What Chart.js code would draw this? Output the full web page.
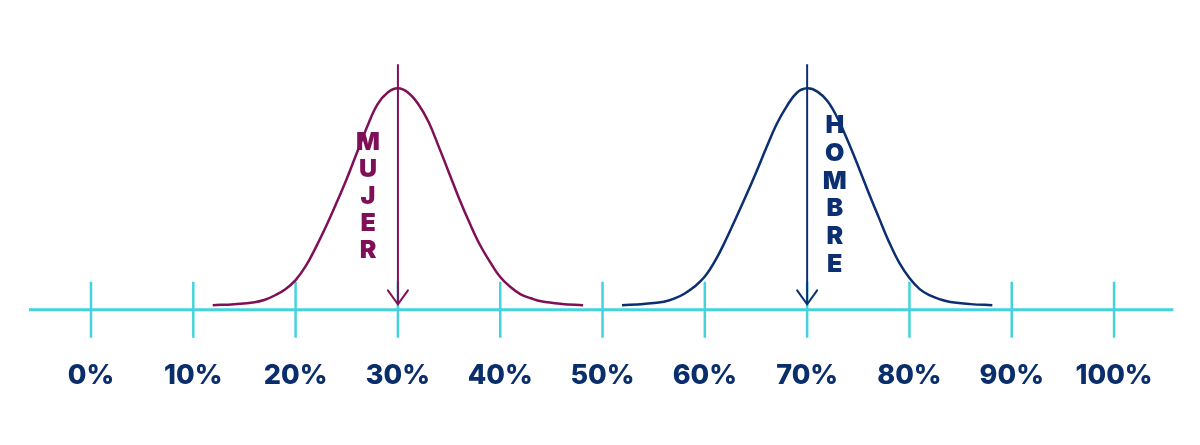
<!DOCTYPE html>
<html>
<head>
<meta charset="utf-8">
<script src="https://cdn.jsdelivr.net/npm/chart.js@4.4.1/dist/chart.umd.min.js"></script>
<style>
  html, body { margin: 0; padding: 0; background: #ffffff; }
  #wrap { width: 1200px; height: 445px; }
</style>
</head>
<body>
<div id="wrap"><canvas id="chart" width="1200" height="445"></canvas></div>
<script>
// Axis ticks (percent)
const tickValues = [0, 10, 20, 30, 40, 50, 60, 70, 80, 90, 100];

// Mujer curve (x in %, y relative to peak)
const mujerX = [11.9, 14, 16, 17, 18, 19, 20, 21, 22, 23, 24, 25, 26, 27, 28, 29, 30,
                31, 32, 33, 34, 35, 36, 37, 38, 39, 40, 41, 42, 43, 44, 46, 48.1];
const mujerY = [0.0, 0.005, 0.014, 0.025, 0.046, 0.074, 0.116, 0.181, 0.269, 0.366, 0.472, 0.583, 0.704, 0.824, 0.926, 0.981, 1.0,
                0.98, 0.927, 0.845, 0.73, 0.61, 0.49, 0.38, 0.28, 0.2, 0.13, 0.084, 0.05, 0.032, 0.018, 0.006, 0.0];

// Hombre curve
const hombreX = [51.9, 54, 56, 57, 58, 59, 60, 61, 62, 63, 64, 65, 66, 67, 68, 69, 70,
                 71, 72, 73, 74, 75, 76, 77, 78, 79, 80, 81, 82, 83, 84, 86, 88.1];
const hombreY = [0.0, 0.006, 0.016, 0.03, 0.053, 0.086, 0.132, 0.204, 0.296, 0.398, 0.502, 0.611, 0.725, 0.833, 0.917, 0.98, 1.0,
                 0.985, 0.94, 0.86, 0.755, 0.64, 0.52, 0.405, 0.292, 0.196, 0.125, 0.074, 0.045, 0.027, 0.015, 0.005, 0.0];

// Arrows: position (%), start and end heights
const arrowX = [30, 70];
const arrowTop = 1.111;
const arrowEnd = 0.004;

// Axis line ends and level
const axisFrom = -6.06;
const axisTo = 105.8;
const axisLevel = -0.021;

const cyan = '#44d3dc';
const maroon = '#7f1058';
const navy = '#0c2f72';
const labelNavy = '#0a2e6c';
const heavyFont = 'Inter, Lato, "Open Sans", sans-serif';

function toPoints(xs, ys) {
    return xs.map((x, i) => ({ x: x, y: ys[i] }));
}

// Draws arrowheads at the end of arrow datasets and the stacked vertical words
const decorPlugin = {
    id: 'decor',
    afterDatasetsDraw(chart, args, opts) {
        const ctx = chart.ctx;
        const xs = chart.scales.x;
        const ys = chart.scales.y;

        chart.data.datasets.forEach((ds) => {
            if (!ds.arrow) return;
            const end = ds.data[ds.data.length - 1];
            const px = xs.getPixelForValue(end.x);
            const py = ys.getPixelForValue(end.y);
            ctx.save();
            ctx.strokeStyle = ds.borderColor;
            ctx.lineWidth = 2;
            ctx.lineCap = 'round';
            ctx.beginPath();
            ctx.moveTo(px - 10, py - 14);
            ctx.lineTo(px, py);
            ctx.lineTo(px + 10, py - 14);
            ctx.stroke();
            ctx.restore();
        });

        opts.words.forEach((w) => {
            const px = xs.getPixelForValue(w.x);
            let py = ys.getPixelForValue(w.y);
            ctx.save();
            ctx.fillStyle = w.color;
            ctx.font = '900 25px ' + heavyFont;
            ctx.textAlign = 'center';
            ctx.textBaseline = 'middle';
            for (const ch of w.text) {
                ctx.fillText(ch, px, py);
                py += w.step;
            }
            ctx.restore();
        });
    }
};

const datasets = [
    {
        label: 'Mujer',
        data: toPoints(mujerX, mujerY),
        borderColor: maroon,
        borderWidth: 2.5,
        pointRadius: 0,
        tension: 0.4,
        order: 2
    },
    {
        label: 'Hombre',
        data: toPoints(hombreX, hombreY),
        borderColor: navy,
        borderWidth: 2.5,
        pointRadius: 0,
        tension: 0.4,
        order: 2
    },
    {
        label: 'Flecha mujer',
        arrow: true,
        data: [{ x: arrowX[0], y: arrowTop }, { x: arrowX[0], y: arrowEnd }],
        borderColor: maroon,
        borderWidth: 2,
        pointRadius: 0,
        order: 1
    },
    {
        label: 'Flecha hombre',
        arrow: true,
        data: [{ x: arrowX[1], y: arrowTop }, { x: arrowX[1], y: arrowEnd }],
        borderColor: navy,
        borderWidth: 2,
        pointRadius: 0,
        order: 1
    },
    {
        label: 'Eje',
        data: [{ x: axisFrom, y: axisLevel }, { x: axisTo, y: axisLevel }],
        borderColor: cyan,
        borderWidth: 3,
        pointRadius: 0,
        order: 3
    },
    {
        label: 'Marcas',
        data: tickValues.map(v => ({ x: v, y: axisLevel })),
        showLine: false,
        pointStyle: 'line',
        rotation: 90,
        pointRadius: 28,
        pointBorderWidth: 2.5,
        pointBorderColor: cyan,
        borderColor: cyan,
        order: 3
    }
];

new Chart(document.getElementById('chart').getContext('2d'), {
    type: 'line',
    data: { datasets: datasets },
    options: {
        responsive: false,
        animation: false,
        devicePixelRatio: 1,
        layout: { autoPadding: false, padding: { left: 0, right: 0, top: 0, bottom: 45 } },
        plugins: {
            legend: { display: false },
            tooltip: { enabled: false },
            decor: {
                words: [
                    { text: 'MUJER', x: 27.08, y: 0.752, step: 27.2, color: maroon },
                    { text: 'HOMBRE', x: 72.7, y: 0.829, step: 27.8, color: navy }
                ]
            }
        },
        scales: {
            x: {
                type: 'linear',
                min: -8.895,
                max: 108.4,
                grid: { display: false, drawTicks: false },
                border: { display: false },
                afterBuildTicks: (scale) => {
                    scale.ticks = tickValues.map(v => ({ value: v }));
                },
                ticks: {
                    autoSkip: false,
                    maxRotation: 0,
                    padding: 8,
                    color: labelNavy,
                    font: { family: heavyFont, size: 27, weight: '800' },
                    callback: (v) => v + '%'
                }
            },
            y: {
                display: false,
                min: -0.2139,
                max: 1.4074
            }
        }
    },
    plugins: [decorPlugin]
});
</script>
</body>
</html>
